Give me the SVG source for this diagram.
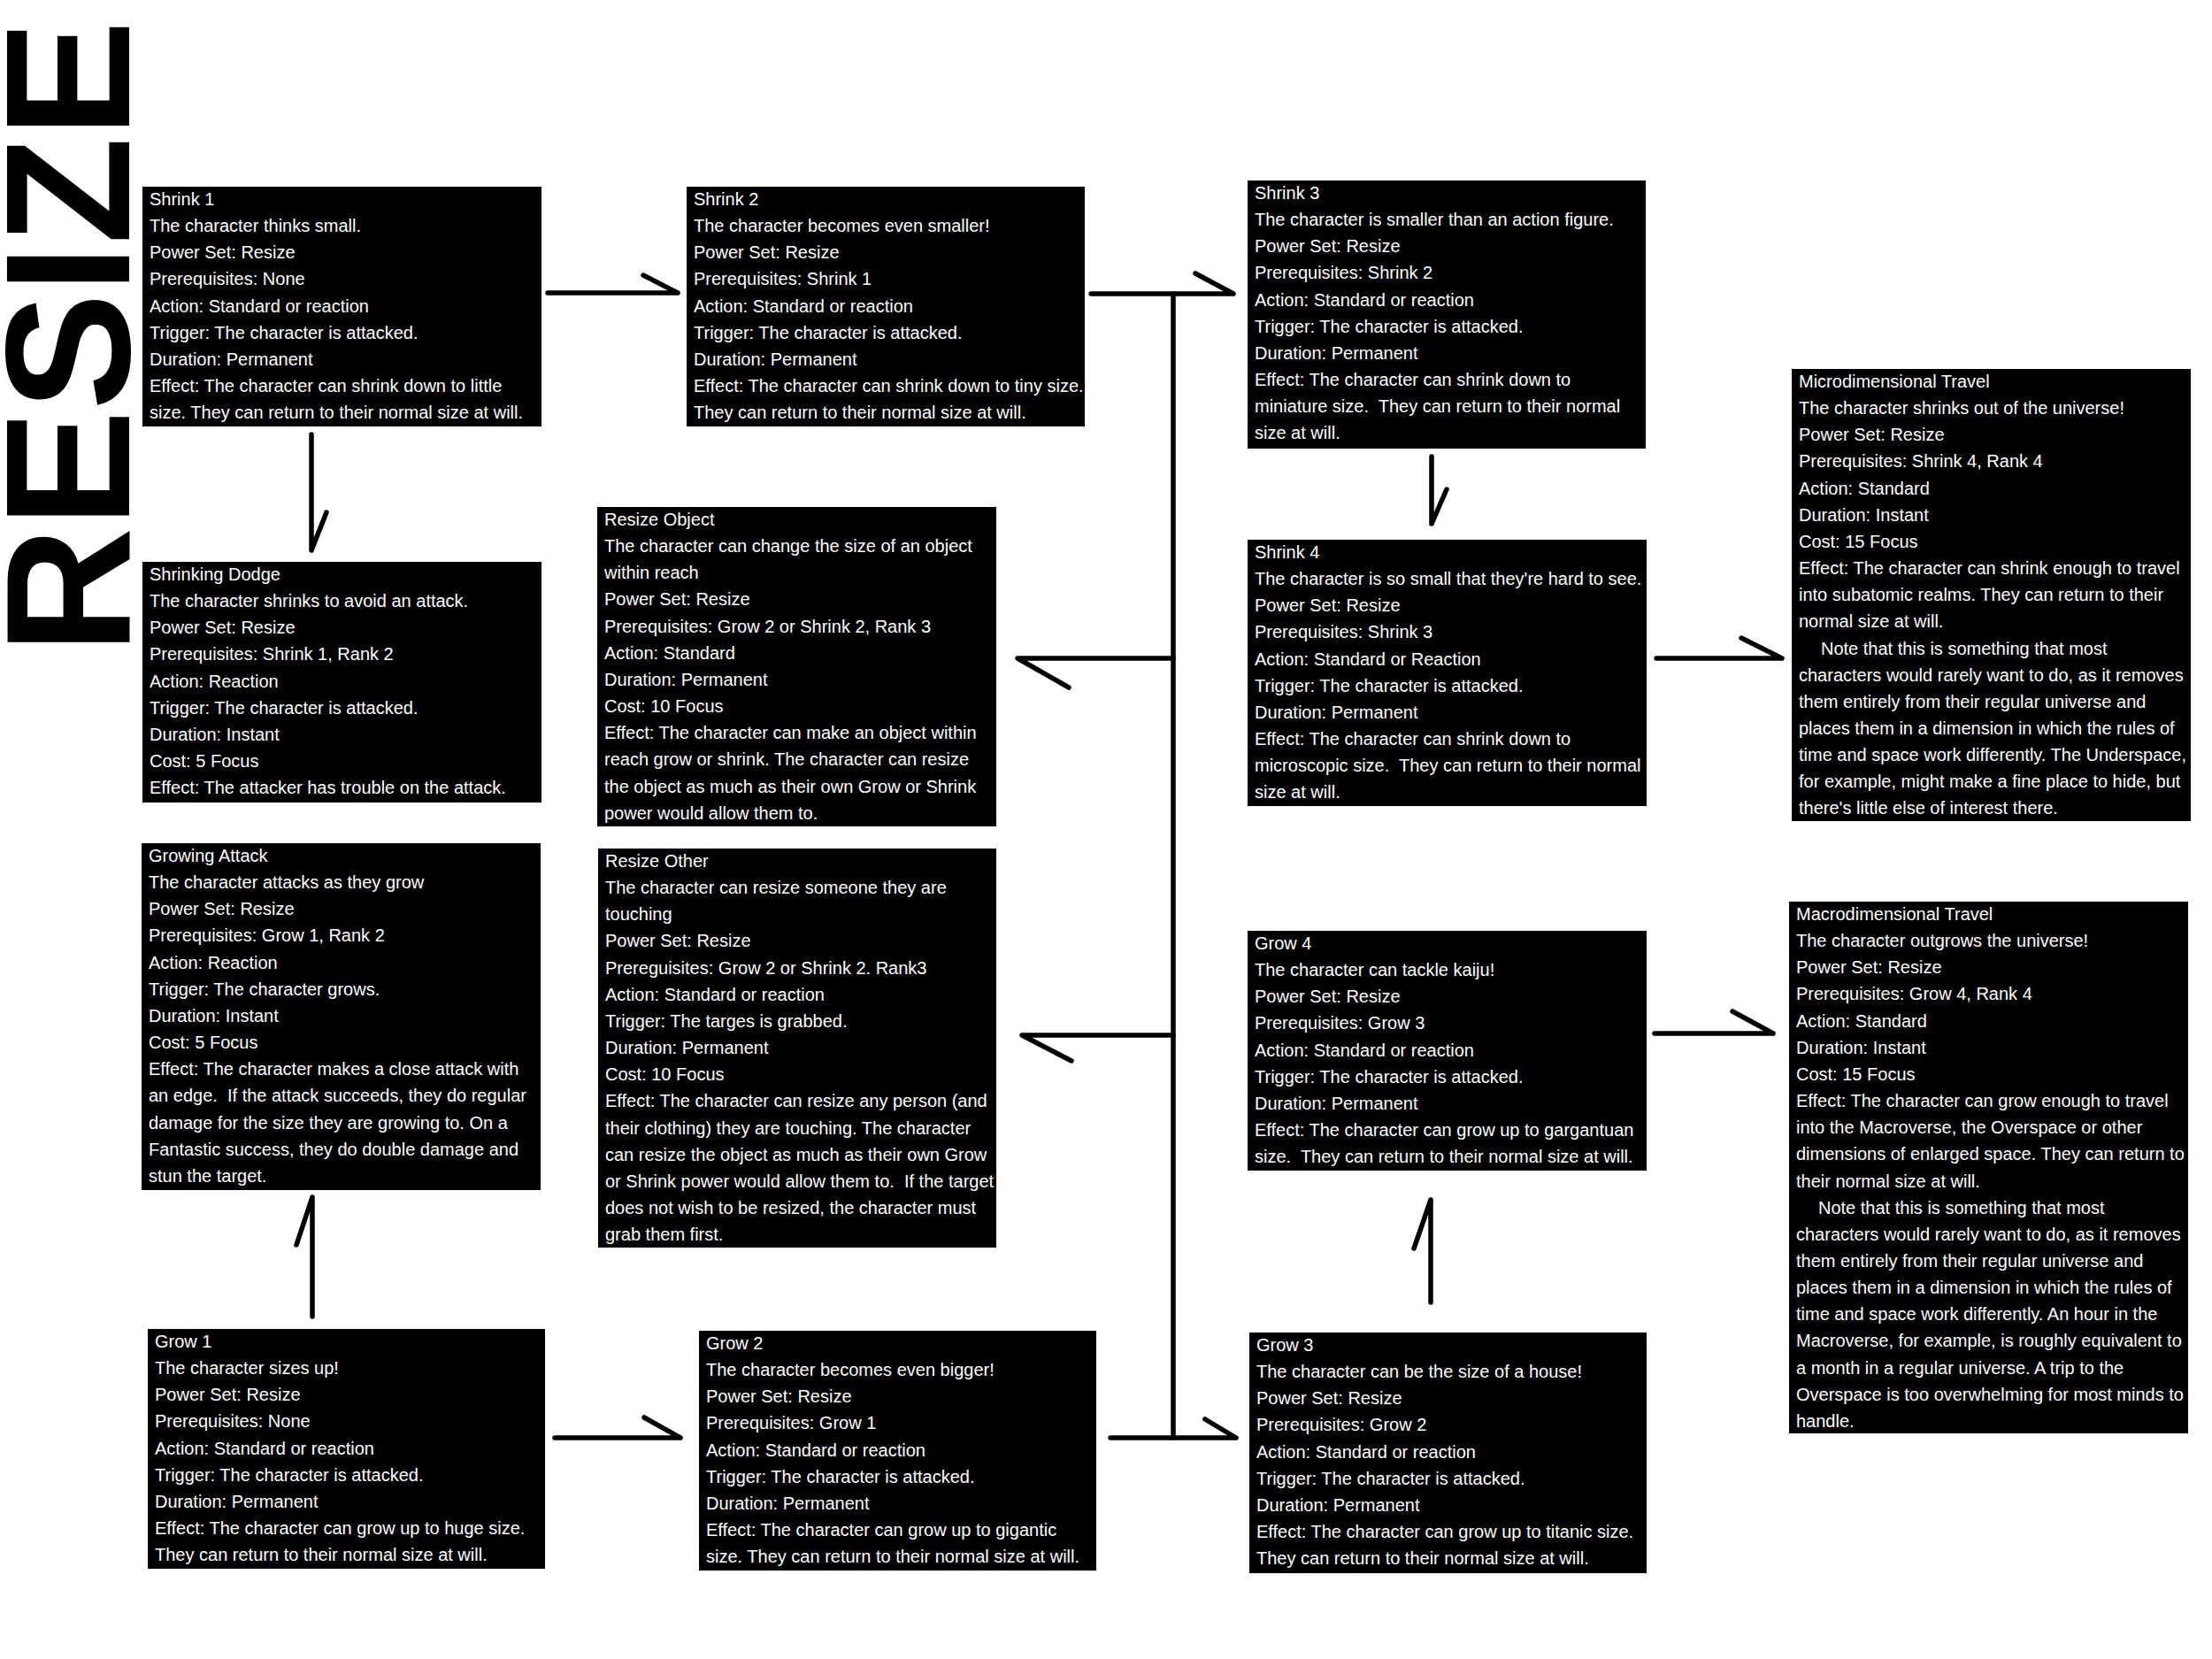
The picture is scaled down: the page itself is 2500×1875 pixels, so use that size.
<svg xmlns="http://www.w3.org/2000/svg" width="2500" height="1875" viewBox="0 0 2500 1875">
<style>
.bg{fill:#fff}
.box{fill:#000}
.t{font-family:'Liberation Sans',Arial,sans-serif;font-size:20px;fill:#fff;white-space:pre}
.c{stroke:#000;stroke-width:5.5;fill:none;stroke-linecap:round;stroke-linejoin:round}
.title{font-family:'Liberation Sans',Arial,sans-serif;font-weight:bold;font-size:201px;fill:#000}
</style>
<rect class="bg" x="0" y="0" width="2500" height="1875"/>
<text class="title" transform="translate(146,739) rotate(-90)" textLength="716" lengthAdjust="spacingAndGlyphs">RESIZE</text>

<g id="connectors">
<path class="c" d="M619,331 H766 M727,311 L766,331"/>
<path class="c" d="M352,491 V622 M369,579 L352,622"/>
<path class="c" d="M1233,332 H1394 M1351,309 L1394,332"/>
<path class="c" d="M1326,332 V1625"/>
<path class="c" d="M1326,744 H1150 L1208,777"/>
<path class="c" d="M1326,1170 H1155 L1211,1199"/>
<path class="c" d="M1255,1625 H1397 M1362,1604 L1397,1625"/>
<path class="c" d="M627,1625 H769 M728,1602 L769,1625"/>
<path class="c" d="M353,1488 V1353 M335,1407 L353,1353"/>
<path class="c" d="M1618,516 V592 M1635,553 L1618,592"/>
<path class="c" d="M1617,1472 V1356 M1598,1411 L1617,1356"/>
<path class="c" d="M1872,744 H2014 M1968,721 L2014,744"/>
<path class="c" d="M1870,1168 H2004 M1958,1143 L2004,1168"/>
</g>

<g id="shrink-1">
<rect class="box" x="161" y="211" width="451" height="271"/>
<text class="t" x="169" y="232"><tspan x="169">Shrink 1</tspan><tspan x="169" dy="30.15">The character thinks small.</tspan><tspan x="169" dy="30.15">Power Set: Resize</tspan><tspan x="169" dy="30.15">Prerequisites: None</tspan><tspan x="169" dy="30.15">Action: Standard or reaction</tspan><tspan x="169" dy="30.15">Trigger: The character is attacked.</tspan><tspan x="169" dy="30.15">Duration: Permanent</tspan><tspan x="169" dy="30.15">Effect: The character can shrink down to little</tspan><tspan x="169" dy="30.15">size. They can return to their normal size at will.</tspan></text>
</g>

<g id="shrink-2">
<rect class="box" x="776" y="211" width="450" height="271"/>
<text class="t" x="784" y="232"><tspan x="784">Shrink 2</tspan><tspan x="784" dy="30.15">The character becomes even smaller!</tspan><tspan x="784" dy="30.15">Power Set: Resize</tspan><tspan x="784" dy="30.15">Prerequisites: Shrink 1</tspan><tspan x="784" dy="30.15">Action: Standard or reaction</tspan><tspan x="784" dy="30.15">Trigger: The character is attacked.</tspan><tspan x="784" dy="30.15">Duration: Permanent</tspan><tspan x="784" dy="30.15">Effect: The character can shrink down to tiny size.</tspan><tspan x="784" dy="30.15">They can return to their normal size at will.</tspan></text>
</g>

<g id="shrink-3">
<rect class="box" x="1410" y="204" width="450" height="303"/>
<text class="t" x="1418" y="225"><tspan x="1418">Shrink 3</tspan><tspan x="1418" dy="30.15">The character is smaller than an action figure.</tspan><tspan x="1418" dy="30.15">Power Set: Resize</tspan><tspan x="1418" dy="30.15">Prerequisites: Shrink 2</tspan><tspan x="1418" dy="30.15">Action: Standard or reaction</tspan><tspan x="1418" dy="30.15">Trigger: The character is attacked.</tspan><tspan x="1418" dy="30.15">Duration: Permanent</tspan><tspan x="1418" dy="30.15">Effect: The character can shrink down to</tspan><tspan x="1418" dy="30.15">miniature size.  They can return to their normal</tspan><tspan x="1418" dy="30.15">size at will.</tspan></text>
</g>

<g id="shrink-4">
<rect class="box" x="1410" y="610" width="451" height="301"/>
<text class="t" x="1418" y="631"><tspan x="1418">Shrink 4</tspan><tspan x="1418" dy="30.15">The character is so small that they're hard to see.</tspan><tspan x="1418" dy="30.15">Power Set: Resize</tspan><tspan x="1418" dy="30.15">Prerequisites: Shrink 3</tspan><tspan x="1418" dy="30.15">Action: Standard or Reaction</tspan><tspan x="1418" dy="30.15">Trigger: The character is attacked.</tspan><tspan x="1418" dy="30.15">Duration: Permanent</tspan><tspan x="1418" dy="30.15">Effect: The character can shrink down to</tspan><tspan x="1418" dy="30.15">microscopic size.  They can return to their normal</tspan><tspan x="1418" dy="30.15">size at will.</tspan></text>
</g>

<g id="shrinking-dodge">
<rect class="box" x="161" y="635" width="451" height="272"/>
<text class="t" x="169" y="656"><tspan x="169">Shrinking Dodge</tspan><tspan x="169" dy="30.15">The character shrinks to avoid an attack.</tspan><tspan x="169" dy="30.15">Power Set: Resize</tspan><tspan x="169" dy="30.15">Prerequisites: Shrink 1, Rank 2</tspan><tspan x="169" dy="30.15">Action: Reaction</tspan><tspan x="169" dy="30.15">Trigger: The character is attacked.</tspan><tspan x="169" dy="30.15">Duration: Instant</tspan><tspan x="169" dy="30.15">Cost: 5 Focus</tspan><tspan x="169" dy="30.15">Effect: The attacker has trouble on the attack.</tspan></text>
</g>

<g id="resize-object">
<rect class="box" x="675" y="573" width="451" height="361"/>
<text class="t" x="683" y="594"><tspan x="683">Resize Object</tspan><tspan x="683" dy="30.15">The character can change the size of an object</tspan><tspan x="683" dy="30.15">within reach</tspan><tspan x="683" dy="30.15">Power Set: Resize</tspan><tspan x="683" dy="30.15">Prerequisites: Grow 2 or Shrink 2, Rank 3</tspan><tspan x="683" dy="30.15">Action: Standard</tspan><tspan x="683" dy="30.15">Duration: Permanent</tspan><tspan x="683" dy="30.15">Cost: 10 Focus</tspan><tspan x="683" dy="30.15">Effect: The character can make an object within</tspan><tspan x="683" dy="30.15">reach grow or shrink. The character can resize</tspan><tspan x="683" dy="30.15">the object as much as their own Grow or Shrink</tspan><tspan x="683" dy="30.15">power would allow them to.</tspan></text>
</g>

<g id="resize-other">
<rect class="box" x="676" y="959" width="450" height="451"/>
<text class="t" x="684" y="980"><tspan x="684">Resize Other</tspan><tspan x="684" dy="30.15">The character can resize someone they are</tspan><tspan x="684" dy="30.15">touching</tspan><tspan x="684" dy="30.15">Power Set: Resize</tspan><tspan x="684" dy="30.15">Prereguisites: Grow 2 or Shrink 2. Rank3</tspan><tspan x="684" dy="30.15">Action: Standard or reaction</tspan><tspan x="684" dy="30.15">Trigger: The targes is grabbed.</tspan><tspan x="684" dy="30.15">Duration: Permanent</tspan><tspan x="684" dy="30.15">Cost: 10 Focus</tspan><tspan x="684" dy="30.15">Effect: The character can resize any person (and</tspan><tspan x="684" dy="30.15">their clothing) they are touching. The character</tspan><tspan x="684" dy="30.15">can resize the object as much as their own Grow</tspan><tspan x="684" dy="30.15">or Shrink power would allow them to.  If the target</tspan><tspan x="684" dy="30.15">does not wish to be resized, the character must</tspan><tspan x="684" dy="30.15">grab them first.</tspan></text>
</g>

<g id="growing-attack">
<rect class="box" x="160" y="953" width="451" height="392"/>
<text class="t" x="168" y="974"><tspan x="168">Growing Attack</tspan><tspan x="168" dy="30.15">The character attacks as they grow</tspan><tspan x="168" dy="30.15">Power Set: Resize</tspan><tspan x="168" dy="30.15">Prerequisites: Grow 1, Rank 2</tspan><tspan x="168" dy="30.15">Action: Reaction</tspan><tspan x="168" dy="30.15">Trigger: The character grows.</tspan><tspan x="168" dy="30.15">Duration: Instant</tspan><tspan x="168" dy="30.15">Cost: 5 Focus</tspan><tspan x="168" dy="30.15">Effect: The character makes a close attack with</tspan><tspan x="168" dy="30.15">an edge.  If the attack succeeds, they do regular</tspan><tspan x="168" dy="30.15">damage for the size they are growing to. On a</tspan><tspan x="168" dy="30.15">Fantastic success, they do double damage and</tspan><tspan x="168" dy="30.15">stun the target.</tspan></text>
</g>

<g id="grow-1">
<rect class="box" x="167" y="1502" width="449" height="271"/>
<text class="t" x="175" y="1523"><tspan x="175">Grow 1</tspan><tspan x="175" dy="30.15">The character sizes up!</tspan><tspan x="175" dy="30.15">Power Set: Resize</tspan><tspan x="175" dy="30.15">Prerequisites: None</tspan><tspan x="175" dy="30.15">Action: Standard or reaction</tspan><tspan x="175" dy="30.15">Trigger: The character is attacked.</tspan><tspan x="175" dy="30.15">Duration: Permanent</tspan><tspan x="175" dy="30.15">Effect: The character can grow up to huge size.</tspan><tspan x="175" dy="30.15">They can return to their normal size at will.</tspan></text>
</g>

<g id="grow-2">
<rect class="box" x="790" y="1504" width="449" height="271"/>
<text class="t" x="798" y="1525"><tspan x="798">Grow 2</tspan><tspan x="798" dy="30.15">The character becomes even bigger!</tspan><tspan x="798" dy="30.15">Power Set: Resize</tspan><tspan x="798" dy="30.15">Prerequisites: Grow 1</tspan><tspan x="798" dy="30.15">Action: Standard or reaction</tspan><tspan x="798" dy="30.15">Trigger: The character is attacked.</tspan><tspan x="798" dy="30.15">Duration: Permanent</tspan><tspan x="798" dy="30.15">Effect: The character can grow up to gigantic</tspan><tspan x="798" dy="30.15">size. They can return to their normal size at will.</tspan></text>
</g>

<g id="grow-3">
<rect class="box" x="1412" y="1506" width="449" height="272"/>
<text class="t" x="1420" y="1527"><tspan x="1420">Grow 3</tspan><tspan x="1420" dy="30.15">The character can be the size of a house!</tspan><tspan x="1420" dy="30.15">Power Set: Resize</tspan><tspan x="1420" dy="30.15">Prerequisites: Grow 2</tspan><tspan x="1420" dy="30.15">Action: Standard or reaction</tspan><tspan x="1420" dy="30.15">Trigger: The character is attacked.</tspan><tspan x="1420" dy="30.15">Duration: Permanent</tspan><tspan x="1420" dy="30.15">Effect: The character can grow up to titanic size.</tspan><tspan x="1420" dy="30.15">They can return to their normal size at will.</tspan></text>
</g>

<g id="grow-4">
<rect class="box" x="1410" y="1052" width="451" height="271"/>
<text class="t" x="1418" y="1073"><tspan x="1418">Grow 4</tspan><tspan x="1418" dy="30.15">The character can tackle kaiju!</tspan><tspan x="1418" dy="30.15">Power Set: Resize</tspan><tspan x="1418" dy="30.15">Prerequisites: Grow 3</tspan><tspan x="1418" dy="30.15">Action: Standard or reaction</tspan><tspan x="1418" dy="30.15">Trigger: The character is attacked.</tspan><tspan x="1418" dy="30.15">Duration: Permanent</tspan><tspan x="1418" dy="30.15">Effect: The character can grow up to gargantuan</tspan><tspan x="1418" dy="30.15">size.  They can return to their normal size at will.</tspan></text>
</g>

<g id="microdimensional-travel">
<rect class="box" x="2025" y="417" width="451" height="511"/>
<text class="t" x="2033" y="438"><tspan x="2033">Microdimensional Travel</tspan><tspan x="2033" dy="30.15">The character shrinks out of the universe!</tspan><tspan x="2033" dy="30.15">Power Set: Resize</tspan><tspan x="2033" dy="30.15">Prerequisites: Shrink 4, Rank 4</tspan><tspan x="2033" dy="30.15">Action: Standard</tspan><tspan x="2033" dy="30.15">Duration: Instant</tspan><tspan x="2033" dy="30.15">Cost: 15 Focus</tspan><tspan x="2033" dy="30.15">Effect: The character can shrink enough to travel</tspan><tspan x="2033" dy="30.15">into subatomic realms. They can return to their</tspan><tspan x="2033" dy="30.15">normal size at will.</tspan><tspan x="2058" dy="30.15">Note that this is something that most</tspan><tspan x="2033" dy="30.15">characters would rarely want to do, as it removes</tspan><tspan x="2033" dy="30.15">them entirely from their regular universe and</tspan><tspan x="2033" dy="30.15">places them in a dimension in which the rules of</tspan><tspan x="2033" dy="30.15">time and space work differently. The Underspace,</tspan><tspan x="2033" dy="30.15">for example, might make a fine place to hide, but</tspan><tspan x="2033" dy="30.15">there's little else of interest there.</tspan></text>
</g>

<g id="macrodimensional-travel">
<rect class="box" x="2022" y="1019" width="451" height="601"/>
<text class="t" x="2030" y="1040"><tspan x="2030">Macrodimensional Travel</tspan><tspan x="2030" dy="30.15">The character outgrows the universe!</tspan><tspan x="2030" dy="30.15">Power Set: Resize</tspan><tspan x="2030" dy="30.15">Prerequisites: Grow 4, Rank 4</tspan><tspan x="2030" dy="30.15">Action: Standard</tspan><tspan x="2030" dy="30.15">Duration: Instant</tspan><tspan x="2030" dy="30.15">Cost: 15 Focus</tspan><tspan x="2030" dy="30.15">Effect: The character can grow enough to travel</tspan><tspan x="2030" dy="30.15">into the Macroverse, the Overspace or other</tspan><tspan x="2030" dy="30.15">dimensions of enlarged space. They can return to</tspan><tspan x="2030" dy="30.15">their normal size at will.</tspan><tspan x="2055" dy="30.15">Note that this is something that most</tspan><tspan x="2030" dy="30.15">characters would rarely want to do, as it removes</tspan><tspan x="2030" dy="30.15">them entirely from their regular universe and</tspan><tspan x="2030" dy="30.15">places them in a dimension in which the rules of</tspan><tspan x="2030" dy="30.15">time and space work differently. An hour in the</tspan><tspan x="2030" dy="30.15">Macroverse, for example, is roughly equivalent to</tspan><tspan x="2030" dy="30.15">a month in a regular universe. A trip to the</tspan><tspan x="2030" dy="30.15">Overspace is too overwhelming for most minds to</tspan><tspan x="2030" dy="30.15">handle.</tspan></text>
</g>
</svg>
